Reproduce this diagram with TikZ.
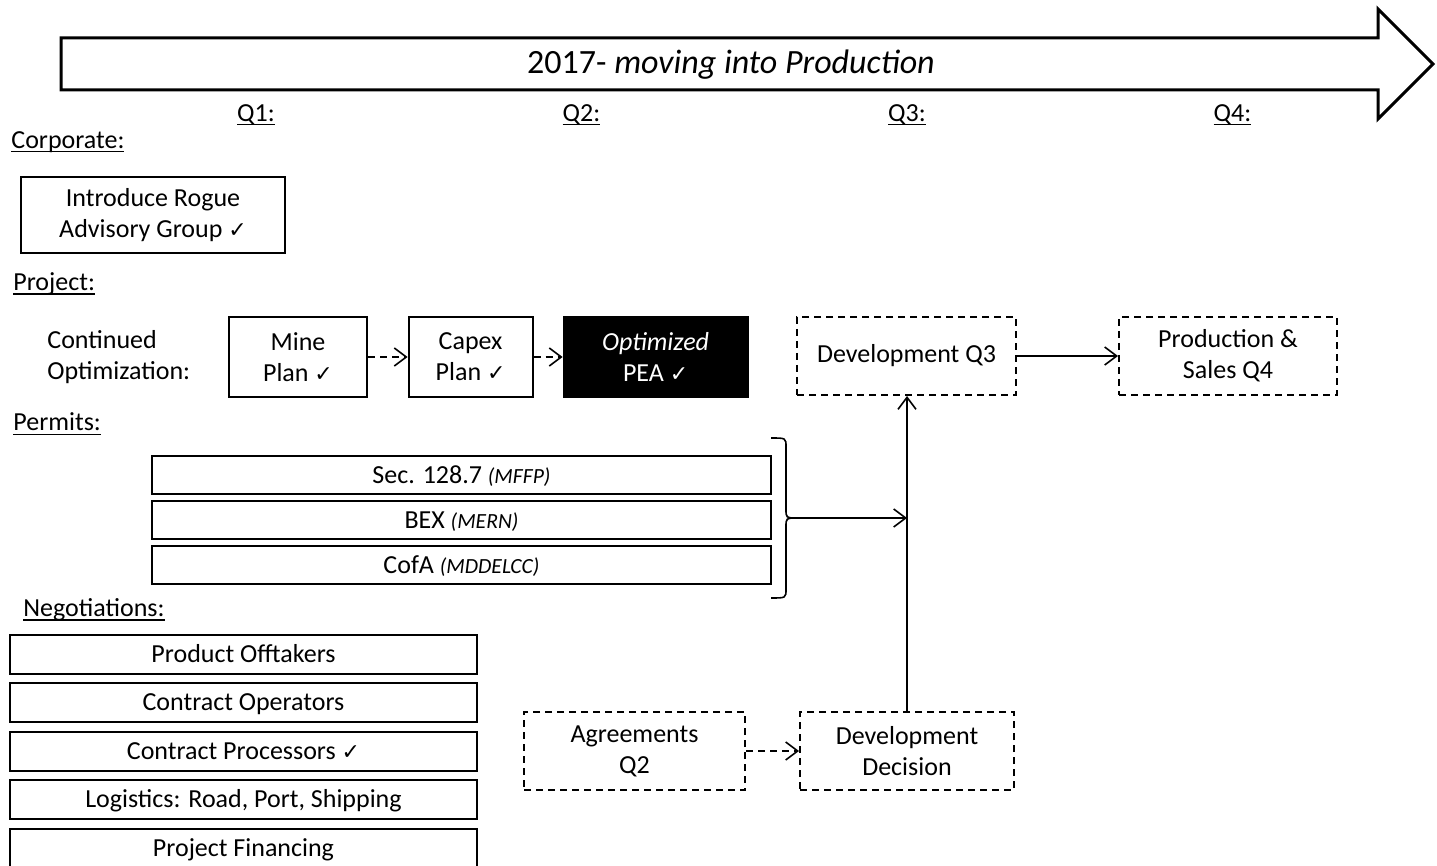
\documentclass[tikz,border=0pt]{standalone}
\usepackage{fontspec}
\setmainfont{Carlito}
\newfontfamily\chkfont{DejaVu Sans}
\usepackage{tikz}
\usetikzlibrary{positioning}
\usetikzlibrary{arrows.meta}

\newcommand{\chk}{{\chkfont\fontsize{11}{12}\selectfont ✓}}
\newcommand{\agency}[1]{{\fontsize{10.8}{12}\selectfont\itshape(#1)}}
\newcommand{\ulbl}[1]{\setbox0\hbox{#1}\rlap{\rule[-2pt]{\wd0}{0.7pt}}\box0}

\tikzset{
	tbox/.style={draw, line width=1pt, align=center, inner sep=0pt},
	dashbox/.style={tbox, dash pattern=on 3.5pt off 2.5pt},
	permbox/.style={tbox, minimum width=309.5pt, minimum height=19pt, text height=9.5pt, text depth=1.1pt},
	negbox/.style={tbox, minimum width=233.5pt, minimum height=19.5pt, text height=9.5pt, text depth=1.1pt},
	sechead/.style={anchor=west, inner sep=0pt},
	conn/.style={line width=0.8pt, -{Straight Barb[length=6pt,width=9pt]}},
	dconn/.style={conn, dash pattern=on 3.5pt off 2.5pt},
}

\begin{document}
\begin{tikzpicture}[x=0.5pt, y=-0.5pt, font=\fontsize{13}{15.5}\selectfont]
	\useasboundingbox (0,0) rectangle (1437,866);
	\draw[line width=1.5pt] (61,38) -- (1378,38) -- (1378,9) -- (1433,64) -- (1378,119) -- (1378,90) -- (61,90) -- cycle;
	\node at (731,65) (title) {\fontsize{17}{20}\selectfont 2017- \textit{moving into Production}};
	\foreach \q in {1,...,4}
		\node at ({256+325.5*(\q-1)},115) (q\q) {\ulbl{Q\q:}};

	\node[sechead] at (11,142) (corp) {\ulbl{Corporate:}};
	\node[tbox, minimum width=132pt, minimum height=38pt] at (153,215) (rogue) {Introduce Rogue\\Advisory Group \chk};

	\node[sechead] at (13,284) (proj) {\ulbl{Project:}};
	\node[sechead, align=left] at (47,357) (contopt) {Continued\\Optimization:};
	\node[tbox, minimum width=69pt, minimum height=40pt] at (298,357) (mine) {Mine\\Plan \chk};
	\node[tbox, minimum width=62pt, minimum height=40pt, right=19.8pt of mine] (capex) {Capex\\Plan \chk};
	\node[tbox, fill=black, text=white, minimum width=92pt, minimum height=40pt, right=14.5pt of capex] (pea) {\textit{Optimized}\\PEA \chk};
	\node[dashbox, minimum width=109.5pt, minimum height=39pt] at (906.5,356) (devq3) {Development Q3};
	\node[dashbox, minimum width=109pt, minimum height=39pt, right=50.5pt of devq3] (prodq4) {Production \&\\Sales Q4};

	\node[sechead] at (13,424) (perm) {\ulbl{Permits:}};
	\node[permbox] at (461.5,475) (sec) {Sec. 128.7 \agency{MFFP}};
	\node[permbox, below=2.5pt of sec] (bex) {BEX \agency{MERN}};
	\node[permbox, below=2.5pt of bex] (cofa) {CofA \agency{MDDELCC}};
	\draw[line width=0.8pt] (771,438) .. controls (786,438) .. (786,447) -- (786,509)
		.. controls (786,518) .. (797,518) .. controls (786,518) .. (786,527) -- (786,589)
		.. controls (786,598) .. (771,598);
	\coordinate (brtip) at (797,518);

	\node[sechead] at (23,610) (nego) {\ulbl{Negotiations:}};
	\node[negbox] at (243.5,654) (offtake) {Product Offtakers};
	\node[negbox, below=3.75pt of offtake] (operators) {Contract Operators};
	\node[negbox, below=3.75pt of operators] (processors) {Contract Processors \chk};
	\node[negbox, below=3.75pt of processors] (logistics) {Logistics: Road, Port, Shipping};
	\node[negbox, below=3.75pt of logistics] (financing) {Project Financing};

	\node[dashbox, minimum width=110.5pt, minimum height=39pt] at (634.5,751) (agree) {Agreements\\Q2};
	\node[dashbox, minimum width=107pt, minimum height=39pt, right=26.5pt of agree] (devdec) {Development\\Decision};

	\draw[dconn] (mine) -- (capex);
	\draw[dconn] (capex) -- (pea);
	\draw[conn] (devq3) -- (prodq4);
	\draw[dconn] (agree) -- (devdec);
	\draw[conn] (devdec.north) -- (devdec.north |- devq3.south);
	\coordinate (join) at (devdec.north |- brtip);
	\draw[conn] (brtip) -- (join);
\end{tikzpicture}
\end{document}
